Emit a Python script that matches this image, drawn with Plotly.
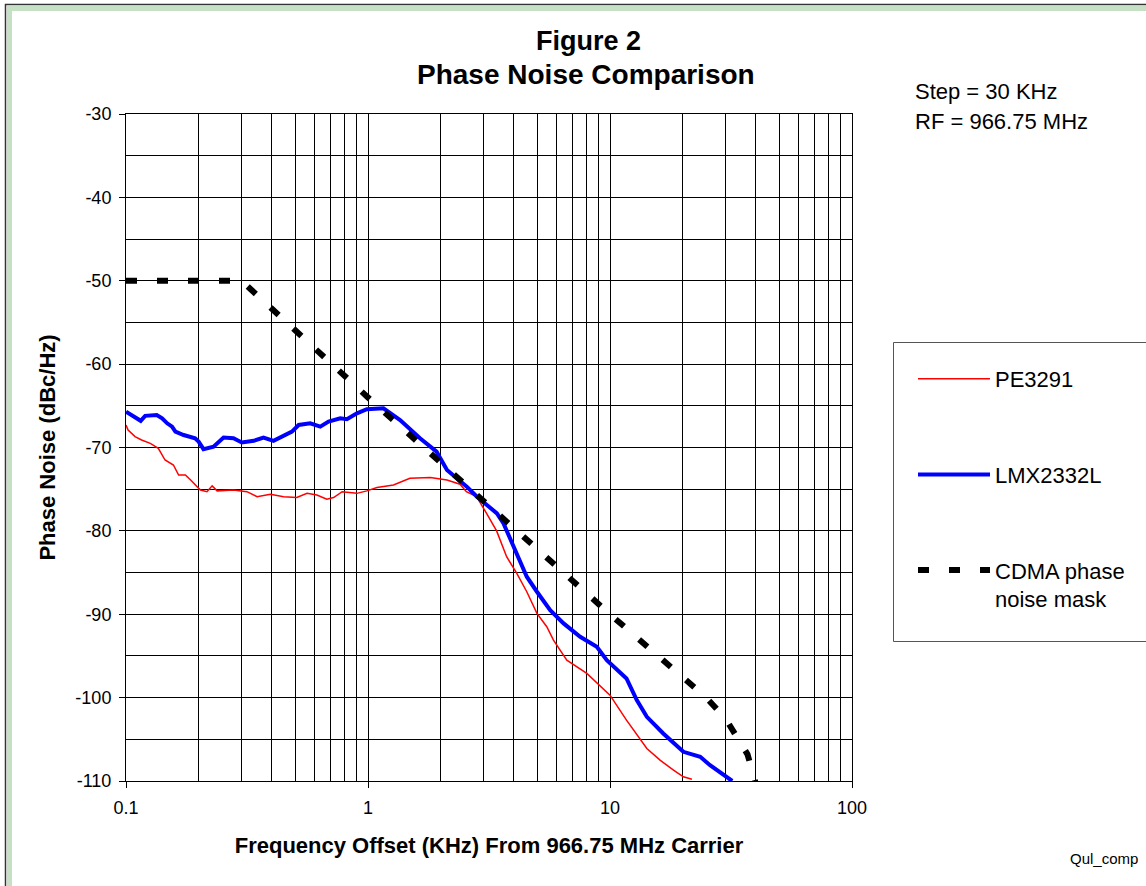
import plotly.graph_objects as go

# ---------------- data ----------------
freq_pe = [0.100, 0.102, 0.109, 0.116, 0.126, 0.136, 0.145, 0.157, 0.165, 0.176, 0.185,
           0.203, 0.216, 0.227, 0.238, 0.278, 0.316, 0.348, 0.395, 0.448, 0.508, 0.560,
           0.615, 0.676, 0.721, 0.782, 0.900, 0.989, 1.089, 1.274, 1.49, 1.81, 2.12,
           2.40, 2.55, 2.81, 3.09, 3.40, 3.74, 4.12, 4.53, 4.99, 5.48, 5.84, 6.63, 8.02,
           10.0, 11.7, 14.2, 16.1, 18.3, 20.1, 21.8]
pn_pe = [-67.3, -67.9, -68.7, -69.1, -69.5, -70.1, -71.5, -72.1, -73.3, -73.3, -73.9,
         -75.1, -75.3, -74.6, -75.2, -75.1, -75.3, -75.9, -75.6, -75.9, -76.0, -75.5,
         -75.7, -76.2, -76.0, -75.3, -75.5, -75.2, -74.8, -74.5, -73.7, -73.6, -73.9,
         -74.4, -75.3, -75.9, -77.9, -80.0, -83.1, -85.1, -87.3, -89.9, -91.5, -93.1,
         -95.5, -97.1, -99.7, -102.7, -106.1, -107.5, -108.7, -109.5, -109.8]

freq_lmx = [0.100, 0.107, 0.115, 0.120, 0.134, 0.141, 0.148, 0.155, 0.160, 0.173, 0.193,
            0.1995, 0.209, 0.230, 0.241, 0.253, 0.278, 0.301, 0.337, 0.370, 0.407, 0.448,
            0.485, 0.517, 0.577, 0.635, 0.687, 0.768, 0.818, 0.900, 0.989, 1.158, 1.233,
            1.357, 1.64, 1.92, 2.12, 2.33, 2.56, 2.82, 3.10, 3.41, 3.63, 3.99, 4.39, 4.53,
            4.99, 5.66, 6.43, 7.53, 8.82, 9.70, 11.7, 12.9, 14.2, 16.6, 20.1, 23.6, 25.9,
            31.4, 32.0]
pn_lmx = [-65.7, -66.3, -66.8, -66.2, -66.1, -66.5, -67.1, -67.5, -68.1, -68.5, -68.9,
          -69.3, -70.2, -69.9, -69.4, -68.8, -68.9, -69.4, -69.2, -68.8, -69.2, -68.6,
          -68.1, -67.3, -67.1, -67.5, -66.9, -66.5, -66.6, -65.9, -65.4, -65.3, -65.9,
          -66.7, -68.9, -70.5, -72.7, -73.7, -74.7, -75.9, -76.9, -77.9, -79.1, -81.9,
          -84.7, -85.5, -87.3, -89.5, -91.1, -92.7, -93.9, -95.5, -97.7, -100.3, -102.3,
          -104.3, -106.5, -107.1, -108.1, -109.7, -110.0]

freq_mask = [0.1, 0.3, 1.0, 10.0, 25.0, 30.0, 37.0, 43.0]
pn_mask = [-50.0, -50.0, -64.0, -90.0, -100.0, -102.5, -106.8, -113.5]

names = ["PE3291", "LMX2332L", "CDMA phase<br>noise mask"]

x_major = [0.1, 1, 10, 100]
x_major_text = ["0.1", "1", "10", "100"]
x_minor = [m * d for d in (0.1, 1, 10) for m in range(2, 10)]
y_ticks = [-30, -40, -50, -60, -70, -80, -90, -100, -110]
y_ticktext = ["-30", "-40", "-50", "-60", "-70", "-80", "-90", "-100", "-110"]

# ---------------- layout geometry ----------------
W, H = 1146, 886
L, R, T, B = 126, 852, 114, 781
PW, PH = R - L, B - T


def px(x):
    return (x - L) / PW


def py(y):
    return (B - y) / PH


FONT = "Liberation Sans, Arial, sans-serif"

fig = go.Figure()
fig.add_trace(go.Scatter(x=freq_pe, y=pn_pe, mode="lines", name=names[0],
                         line=dict(color="#FF0000", width=1.5), legendgroup="a"))
fig.add_trace(go.Scatter(x=freq_lmx, y=pn_lmx, mode="lines", name=names[1],
                         line=dict(color="#0000FF", width=4), legendgroup="b"))
fig.add_trace(go.Scatter(x=freq_mask, y=pn_mask, mode="lines", name=names[2],
                         line=dict(color="#000000", width=6, dash="11px,20px"),
                         legendgroup="c"))

fig.update_layout(
    width=W, height=H,
    margin=dict(l=L, r=W - R, t=T, b=H - B, autoexpand=False),
    paper_bgcolor="white", plot_bgcolor="white",
    font=dict(family=FONT, color="black", size=18),
    showlegend=True,
    legend=dict(x=px(913), y=py(358), xanchor="left", yanchor="top",
                font=dict(size=22, family=FONT), itemwidth=72,
                tracegroupgap=64, valign="top", bgcolor="rgba(0,0,0,0)",
                borderwidth=0),
    xaxis=dict(type="log", range=[-1, 2], tickvals=x_major, ticktext=x_major_text,
               showgrid=True, gridcolor="#000000", gridwidth=1,
               showline=True, linecolor="#000000", linewidth=1, mirror=True,
               ticks="outside", ticklen=6, tickcolor="#000000",
               tickfont=dict(size=18), ticklabelstandoff=4,
               minor=dict(tickvals=x_minor, showgrid=True, gridcolor="#000000",
                          gridwidth=1, ticks=""),
               title=dict(text="<b>Frequency Offset (KHz) From 966.75 MHz Carrier</b>",
                          font=dict(size=22), standoff=21),
               zeroline=False),
    yaxis=dict(range=[-110, -30], tickvals=y_ticks, ticktext=y_ticktext,
               showgrid=True, gridcolor="#000000", gridwidth=1,
               showline=True, linecolor="#000000", linewidth=1, mirror=True,
               ticks="outside", ticklen=6, tickcolor="#000000",
               tickfont=dict(size=18), ticklabelstandoff=4,
               minor=dict(dtick=5, showgrid=True, gridcolor="#000000",
                          gridwidth=1, ticks=""),
               title=dict(text="<b>Phase Noise (dBc/Hz)</b>", font=dict(size=22),
                          standoff=13),
               zeroline=False),
    shapes=[
        # outer frame
        dict(type="rect", xref="paper", yref="paper", x0=px(5.5), y0=py(950),
             x1=px(1250), y1=py(4.5), line=dict(color="#333333", width=1.5),
             fillcolor="rgba(0,0,0,0)", layer="below"),
        dict(type="rect", xref="paper", yref="paper", x0=px(9.5), y0=py(950),
             x1=px(1250), y1=py(8.5), line=dict(color="#C6E0C6", width=5),
             fillcolor="rgba(0,0,0,0)", layer="below"),
        # legend box
        dict(type="rect", xref="paper", yref="paper", x0=px(893.5), y0=py(641.5),
             x1=px(1250), y1=py(342.5), line=dict(color="#555555", width=1),
             fillcolor="rgba(0,0,0,0)", layer="below"),
    ],
    annotations=[
        dict(text="<b>Figure 2</b>", xref="paper", yref="paper", x=px(588), y=py(41),
             xanchor="center", yanchor="middle", showarrow=False,
             font=dict(size=27, family=FONT)),
        dict(text="<b>Phase Noise Comparison</b>", xref="paper", yref="paper",
             x=px(586), y=py(74), xanchor="center", yanchor="middle", showarrow=False,
             font=dict(size=28, family=FONT)),
        dict(text="Step = 30 KHz", xref="paper", yref="paper", x=px(913), y=py(92),
             xanchor="left", yanchor="middle", showarrow=False,
             font=dict(size=22, family=FONT)),
        dict(text="RF = 966.75 MHz", xref="paper", yref="paper", x=px(913), y=py(121),
             xanchor="left", yanchor="middle", showarrow=False,
             font=dict(size=22, family=FONT)),
        dict(text="Qul_comp", xref="paper", yref="paper", x=px(1068), y=py(858),
             xanchor="left", yanchor="middle", showarrow=False,
             font=dict(size=15, family=FONT)),
    ],
)

fig.write_html("out.html")
